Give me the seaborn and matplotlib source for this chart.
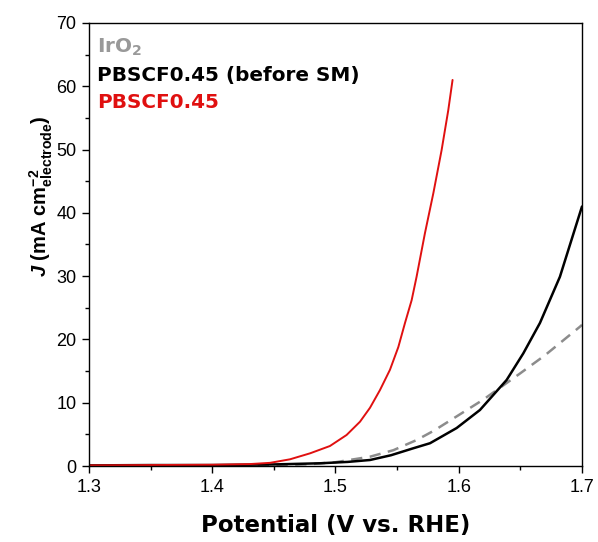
import numpy as np
import pandas as pd
import seaborn as sns
import matplotlib.pyplot as plt
from matplotlib.ticker import MultipleLocator

# values
v_red = [1.30, 1.35, 1.40, 1.43, 1.4469, 1.4631, 1.4793, 1.4955, 1.509, 1.5199, 1.528,
         1.5361, 1.5442, 1.551, 1.5564, 1.5618, 1.5658, 1.5726, 1.5794, 1.5861, 1.5915, 1.595]
j_red = [0.1, 0.15, 0.2, 0.3, 0.5, 1.06, 2.0, 3.16, 4.9, 7.0, 9.2,
         12.0, 15.2, 18.8, 22.6, 26.2, 29.9, 36.8, 43.1, 49.9, 56.2, 61.0]

v_black = [1.30, 1.35, 1.40, 1.45, 1.4874, 1.51, 1.528, 1.545, 1.5631, 1.5767, 1.5983,
           1.6172, 1.6389, 1.6524, 1.6659, 1.6821, 1.70]
j_black = [0.1, 0.15, 0.15, 0.25, 0.43, 0.65, 0.95, 1.7, 2.8, 3.6, 6.0,
           8.85, 13.6, 17.8, 22.6, 29.9, 41.0]

v_gray = [1.30, 1.40, 1.45, 1.48, 1.50, 1.528, 1.547, 1.5658, 1.58, 1.598, 1.62,
          1.6496, 1.67, 1.6983, 1.70]
j_gray = [0.0, 0.02, 0.1, 0.3, 0.6, 1.47, 2.5, 4.1, 5.6, 7.8, 10.5,
          14.6, 17.5, 22.0, 22.3]

sns.set_style("ticks")
plt.rcParams['font.family'] = ['Liberation Sans', 'DejaVu Sans']
plt.rcParams['mathtext.fontset'] = 'custom'
plt.rcParams['mathtext.rm'] = 'Liberation Sans'
plt.rcParams['mathtext.it'] = 'Liberation Sans:italic'
plt.rcParams['mathtext.bf'] = 'Liberation Sans:bold'
plt.rcParams['mathtext.bfit'] = 'Liberation Sans:bold:italic'
plt.rcParams['text.color'] = 'black'
plt.rcParams['axes.labelcolor'] = 'black'
plt.rcParams['xtick.color'] = 'black'
plt.rcParams['ytick.color'] = 'black'

fig = plt.figure(figsize=(5.98, 5.42), dpi=100)
ax = fig.add_axes([0.1488, 0.1402, 0.8244, 0.8174])

gray = pd.DataFrame({'V': v_gray, 'J': j_gray})
black = pd.DataFrame({'V': v_black, 'J': j_black})
red = pd.DataFrame({'V': v_red, 'J': j_red})

sns.lineplot(data=gray, x='V', y='J', ax=ax, color='#8c8c8c', lw=1.8,
             label=r'IrO$_\mathregular{2}$', sort=False)
ax.lines[-1].set_dashes([4.5, 3])
sns.lineplot(data=black, x='V', y='J', ax=ax, color='black', lw=1.8,
             label='PBSCF0.45 (before SM)', sort=False)
sns.lineplot(data=red, x='V', y='J', ax=ax, color='#e01010', lw=1.4,
             label='PBSCF0.45', sort=False)
for ln in ax.lines:
    ln.set_solid_joinstyle('round')

ax.set_xlim(1.3, 1.7)
ax.set_ylim(0, 70)
ax.xaxis.set_major_locator(MultipleLocator(0.1))
ax.xaxis.set_minor_locator(MultipleLocator(0.05))
ax.yaxis.set_major_locator(MultipleLocator(10))
ax.yaxis.set_minor_locator(MultipleLocator(5))
ax.tick_params(which='major', direction='out', length=5, width=1, labelsize=13, pad=4,
               colors='black')
ax.tick_params(which='minor', direction='out', length=3, width=1, colors='black')
for s in ax.spines.values():
    s.set_visible(True)
    s.set_linewidth(1)
    s.set_color('black')

ax.set_xlabel('Potential (V vs. RHE)', fontsize=16.5, fontweight='bold',
              family='DejaVu Sans', labelpad=13)
ax.set_ylabel(r'$\mathbfit{J}$ $\mathbf{(mA\ cm^{-2}_{electrode})}$', fontsize=14.5)
ax.yaxis.set_label_coords(-0.068, 0.61)

leg = ax.legend(loc='upper left', bbox_to_anchor=(0, 0.988), frameon=False,
                handlelength=0, handletextpad=0,
                prop={'weight': 'bold', 'size': 14.4, 'family': 'DejaVu Sans'},
                borderaxespad=0, borderpad=0.4, labelspacing=0.42)
for h in leg.legend_handles:
    h.set_visible(False)
for t, c in zip(leg.get_texts(), ['#999999', 'black', '#e01010']):
    t.set_color(c)

fig.savefig('out.png', dpi=100)
